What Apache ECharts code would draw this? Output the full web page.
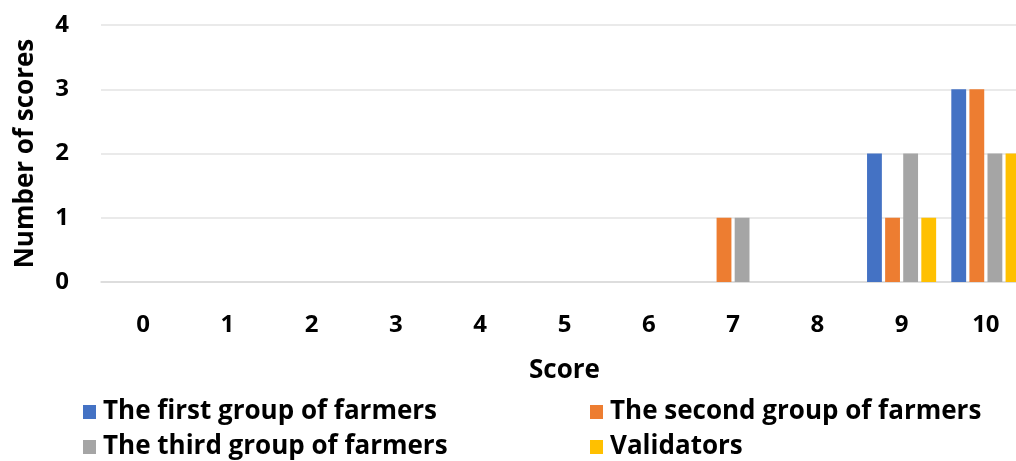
<!DOCTYPE html>
<html><head><meta charset="utf-8">
<script src="https://cdn.jsdelivr.net/npm/echarts@6/dist/echarts.min.js"></script>
<style>html,body{margin:0;padding:0;overflow:hidden;background:#fff;width:1016px;height:461px}#c{width:1030px;height:461px}</style>
</head><body><div id="c"></div>
<script>
const categories = ['0','1','2','3','4','5','6','7','8','9','10'];
const firstGroup  = [0,0,0,0,0,0,0,0,0,2,3];
const secondGroup = [0,0,0,0,0,0,0,1,0,1,3];
const thirdGroup  = [0,0,0,0,0,0,0,1,0,2,2];
const validators  = [0,0,0,0,0,0,0,0,0,1,2];
const seriesNames = ['The first group of farmers','The second group of farmers','The third group of farmers','Validators'];
const colors = ['#4472C4','#ED7D31','#A5A5A5','#FFC000'];
const yTicks = [0,1,2,3,4];

const FONT = '"Open Sans", "DejaVu Sans", sans-serif';
const chart = echarts.init(document.getElementById('c'));
const txt = {fontFamily: FONT, fontWeight: 'bold', fontSize: 24, color: '#000'};
function leg(name, left, top){
  return {data:[name], left:left, top:top, itemWidth:13, itemHeight:14, itemGap:0, icon:'rect',
    textStyle:Object.assign({}, txt, {fontSize:26, padding:[0,0,0,2]}), selectedMode:false};
}
const datas = [firstGroup, secondGroup, thirdGroup, validators];
chart.setOption({
  animation:false,
  color: colors,
  grid:{left:101, right:2, top:25, bottom:179},
  legend:[
    leg(seriesNames[0], 78, 394),
    leg(seriesNames[1], 585, 394),
    leg(seriesNames[2], 78, 429),
    leg(seriesNames[3], 585, 429)
  ],
  xAxis:{type:'category', data:categories, name:'Score', nameLocation:'middle', nameGap:76,
    nameTextStyle:Object.assign({}, txt, {fontSize:26}), axisLabel:Object.assign({}, txt, {margin:31}),
    axisTick:{show:false}, axisLine:{lineStyle:{color:'#d9d9d9', width:1.5}}},
  yAxis:{type:'value', min:0, max:4, interval:1, name:'Number of scores', nameLocation:'middle', nameGap:62,
    nameTextStyle:Object.assign({}, txt, {fontSize:26}), axisLabel:Object.assign({}, txt, {margin:32, formatter:v=>yTicks.includes(v)?String(v):''}),
    splitLine:{lineStyle:{color:'#e3e3e3', width:1.5}}, axisLine:{show:false}, axisTick:{show:false}},
  series: seriesNames.map((n,i)=>({name:n, type:'bar', data:datas[i], barGap:'22%', barCategoryGap:'18%',
    itemStyle:{color:colors[i]}}))
});
</script></body></html>
